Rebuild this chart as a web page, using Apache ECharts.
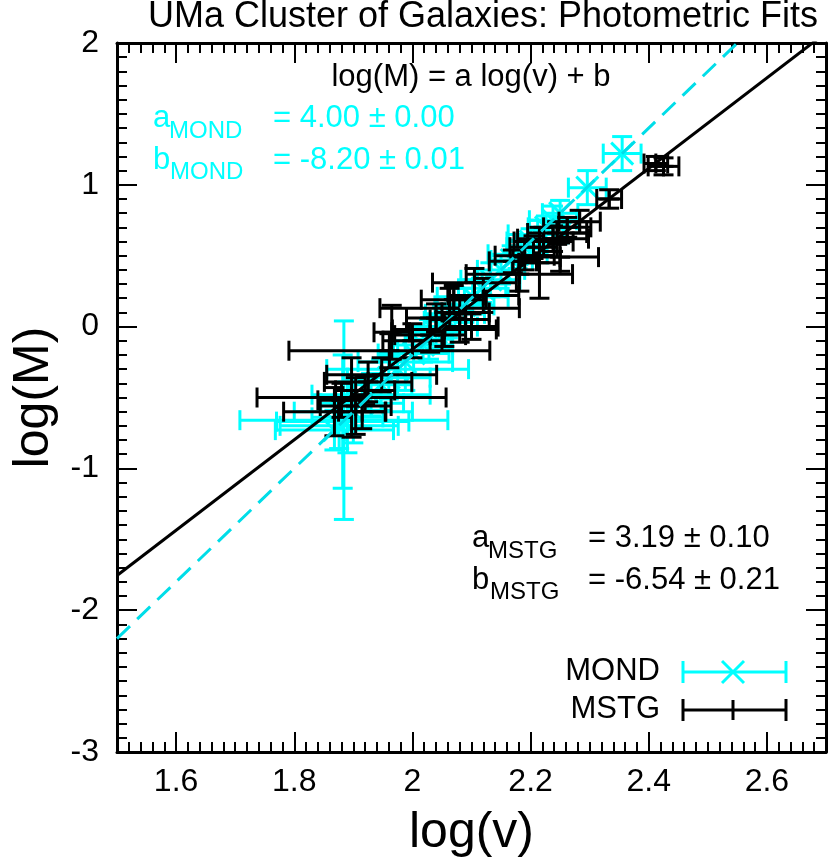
<!DOCTYPE html>
<html>
<head>
<meta charset="utf-8">
<title>UMa Cluster of Galaxies: Photometric Fits</title>
<script src="https://cdn.jsdelivr.net/npm/echarts@6/dist/echarts.min.js"></script>
<style>
  html, body { margin: 0; padding: 0; background: #fff; }
  #chart { width: 829px; height: 863px; }
</style>
</head>
<body>
<div id="chart"></div>
<script>
// MOND points: log(v), log(M) and their errors
const mondV  = [2.355, 2.296, 2.250, 2.238, 2.226, 2.212, 2.200, 2.190, 2.178, 2.168, 2.150, 2.132,
                2.118, 2.102, 2.088, 2.072, 2.060, 2.050, 2.040, 2.028, 2.018, 2.002, 1.988, 1.975,
                1.960, 1.947, 1.930, 1.915, 1.900, 1.890, 1.884, 1.882, 1.876, 1.868];
const mondM  = [1.22, 0.98, 0.80, 0.75, 0.70, 0.65, 0.60, 0.56, 0.51, 0.47, 0.40, 0.33,
                0.27, 0.21, 0.15, 0.09, 0.04, 0.00, -0.04, -0.09, -0.13, -0.19, -0.25, -0.30,
                -0.36, -0.41, -0.48, -0.54, -0.60, -0.64, -0.66, -0.67, -0.70, -0.73];
const mondDV = [0.032, 0.032, 0.030, 0.040, 0.030, 0.050, 0.040, 0.030, 0.050, 0.035, 0.040, 0.050,
                0.040, 0.060, 0.050, 0.050, 0.040, 0.060, 0.050, 0.040, 0.050, 0.060, 0.080, 0.120,
                0.070, 0.052, 0.100, 0.070, 0.100, 0.060, 0.176, 0.112, 0.100, 0.100];
const mondDM = [0.12, 0.12, 0.09, 0.10, 0.08, 0.10, 0.09, 0.08, 0.10, 0.10, 0.10, 0.12,
                0.10, 0.12, 0.12, 0.10, 0.12, 0.15, 0.12, 0.14, 0.12, 0.15, 0.20, 0.20,
                0.15, 0.18, 0.15, 0.18, 0.22, 0.25, 0.70, 0.47, 0.16, 0.14];

// MSTG points
const mstgV  = [2.425, 2.412, 2.333, 2.283, 2.262, 2.245, 2.238, 2.250, 2.215, 2.222, 2.205, 2.190,
                2.181, 2.170, 2.105, 2.120, 2.063, 2.070, 2.054, 2.080, 2.090, 2.040, 2.030, 2.100,
                2.000, 1.965, 1.961, 1.948, 1.925, 1.920, 1.904, 1.897, 1.868, 1.880, 1.915];
const mstgM  = [1.13, 1.15, 0.90, 0.74, 0.70, 0.66, 0.62, 0.49, 0.45, 0.60, 0.56, 0.50,
                0.37, 0.46, 0.31, 0.22, 0.13, 0.19, -0.02, 0.05, 0.10, 0.06, -0.06, 0.00,
                -0.10, -0.04, -0.17, -0.34, -0.39, -0.45, -0.56, -0.50, -0.60, -0.52, -0.60];
const mstgDV = [0.026, 0.020, 0.021, 0.035, 0.040, 0.050, 0.060, 0.065, 0.035, 0.050, 0.040, 0.050,
                0.090, 0.040, 0.071, 0.060, 0.118, 0.055, 0.088, 0.050, 0.040, 0.050, 0.060, 0.045,
                0.050, 0.030, 0.170, 0.093, 0.074, 0.050, 0.060, 0.160, 0.086, 0.040, 0.040];
const mstgDM = [0.06, 0.05, 0.065, 0.08, 0.07, 0.08, 0.09, 0.10, 0.25, 0.10, 0.08, 0.10,
                0.12, 0.08, 0.10, 0.12, 0.14, 0.10, 0.12, 0.16, 0.10, 0.10, 0.12, 0.09,
                0.12, 0.19, 0.12, 0.12, 0.14, 0.10, 0.20, 0.28, 0.17, 0.12, 0.12];

// fit lines, end points at the plot edges
const fitV = [1.5, 2.7];
const mondFitM = [-2.2, 2.6];
const mstgFitM = [-1.755, 2.073];

const xMajor = [1.6, 1.8, 2.0, 2.2, 2.4, 2.6];

const CYAN = '#00ffff';
const FONT = "'Liberation Sans', Arial, sans-serif";
const CAP = 10;

function errorBars(color, mark) {
  return function (params, api) {
    const v = api.value(0), m = api.value(1), dv = api.value(2), dm = api.value(3);
    const p = api.coord([v, m]);
    const l = api.coord([v - dv, m]);
    const r = api.coord([v + dv, m]);
    const t = api.coord([v, m + dm]);
    const b = api.coord([v, m - dm]);
    const st = { stroke: color, lineWidth: 3 };
    const seg = (x1, y1, x2, y2) => ({ type: 'line', shape: { x1: x1, y1: y1, x2: x2, y2: y2 }, style: st });
    const kids = [
      seg(l[0], l[1], r[0], r[1]),
      seg(l[0], l[1] - CAP, l[0], l[1] + CAP),
      seg(r[0], r[1] - CAP, r[0], r[1] + CAP),
      seg(t[0], t[1], b[0], b[1]),
      seg(t[0] - CAP, t[1], t[0] + CAP, t[1]),
      seg(b[0] - CAP, b[1], b[0] + CAP, b[1])
    ];
    if (mark === 'x') {
      kids.push(seg(p[0] - 11, p[1] - 11, p[0] + 11, p[1] + 11));
      kids.push(seg(p[0] - 11, p[1] + 11, p[0] + 11, p[1] - 11));
    } else {
      kids.push(seg(p[0] - 10, p[1], p[0] + 10, p[1]));
      kids.push(seg(p[0], p[1] - 10, p[0], p[1] + 10));
    }
    return { type: 'group', children: kids };
  };
}

function xAxisPair(pos, withLabels) {
  return [
    {
      type: 'value', position: pos, min: 1.5, max: 2.7, interval: 0.02,
      axisLine: { show: true, onZero: false, lineStyle: { color: '#000', width: 3 } },
      axisTick: { inside: true, length: 10, lineStyle: { color: '#000', width: 2 } },
      axisLabel: { show: false }, splitLine: { show: false },
      name: withLabels ? 'log(v)' : '', nameLocation: 'middle', nameGap: 56,
      nameTextStyle: { fontFamily: FONT, fontSize: 50, color: '#000' }
    },
    {
      type: 'value', position: pos, min: 1.5, max: 2.7, interval: 0.1,
      axisLine: { show: false, onZero: false },
      axisTick: { inside: true, length: 20, customValues: xMajor, lineStyle: { color: '#000', width: 2 } },
      axisLabel: { show: withLabels, customValues: xMajor, fontFamily: FONT, fontSize: 32, color: '#000', margin: 14 },
      splitLine: { show: false }
    }
  ];
}

function yAxisOne(pos, withLabels) {
  return {
    type: 'value', position: pos, min: -3, max: 2, interval: 1,
    axisLine: { show: true, onZero: false, lineStyle: { color: '#000', width: 3 } },
    axisTick: { inside: true, length: 20, lineStyle: { color: '#000', width: 2 } },
    minorTick: { show: true, splitNumber: 10, length: 10, lineStyle: { color: '#000', width: 2 } },
    axisLabel: { show: withLabels, fontFamily: FONT, fontSize: 32, color: '#000', margin: 18 },
    splitLine: { show: false },
    name: withLabels ? 'log(M)' : '', nameLocation: 'middle', nameGap: 58,
    nameTextStyle: { fontFamily: FONT, fontSize: 50, color: '#000' }
  };
}

function txt(x, y, s, size, color, align) {
  return {
    type: 'text', x: x, y: y, silent: true,
    style: { text: s, font: size + 'px ' + FONT, fill: color, align: align || 'left', verticalAlign: 'middle' }
  };
}
function seg(x1, y1, x2, y2, color) {
  return { type: 'line', silent: true, shape: { x1: x1, y1: y1, x2: x2, y2: y2 }, style: { stroke: color, lineWidth: 3 } };
}

const chart = echarts.init(document.getElementById('chart'));
chart.setOption({
  backgroundColor: '#fff',
  animation: false,
  grid: { left: 117, right: 3, top: 43, bottom: 110, containLabel: false },
  xAxis: xAxisPair('bottom', true).concat(xAxisPair('top', false)),
  yAxis: [yAxisOne('left', true), yAxisOne('right', false)],
  series: [
    {
      type: 'custom', name: 'MOND', xAxisIndex: 0, yAxisIndex: 0, clip: true, silent: true, z: 1,
      renderItem: errorBars(CYAN, 'x'),
      encode: { x: 0, y: 1 },
      data: mondV.map((v, i) => [v, mondM[i], mondDV[i], mondDM[i]])
    },
    {
      type: 'custom', name: 'MSTG', xAxisIndex: 0, yAxisIndex: 0, clip: true, silent: true, z: 2,
      renderItem: errorBars('#000', '+'),
      encode: { x: 0, y: 1 },
      data: mstgV.map((v, i) => [v, mstgM[i], mstgDV[i], mstgDM[i]])
    },
    {
      type: 'line', xAxisIndex: 0, yAxisIndex: 0, clip: true, silent: true, z: 3,
      symbol: 'none', lineStyle: { color: '#00dde8', width: 3, type: [18, 10] },
      data: fitV.map((v, i) => [v, mondFitM[i]])
    },
    {
      type: 'line', xAxisIndex: 0, yAxisIndex: 0, clip: true, silent: true, z: 4,
      symbol: 'none', lineStyle: { color: '#000', width: 3 },
      data: fitV.map((v, i) => [v, mstgFitM[i]])
    }
  ],
  graphic: [
    txt(483, 17, 'UMa Cluster of Galaxies: Photometric Fits', 36, '#000', 'center'),
    txt(471, 77, 'log(M) = a log(v) + b', 31, '#000', 'center'),

    txt(153, 118, 'a', 31, CYAN), txt(169, 131, 'MOND', 24, CYAN), txt(273, 118, '= 4.00 ± 0.00', 31, CYAN),
    txt(153, 160, 'b', 31, CYAN), txt(170, 172, 'MOND', 24, CYAN), txt(273, 160, '= -8.20 ± 0.01', 31, CYAN),

    txt(472, 538, 'a', 31, '#000'), txt(488, 551, 'MSTG', 24, '#000'), txt(588, 538, '= 3.19 ± 0.10', 31, '#000'),
    txt(472, 580, 'b', 31, '#000'), txt(490, 592, 'MSTG', 24, '#000'), txt(588, 580, '= -6.54 ± 0.21', 31, '#000'),

    txt(660, 671, 'MOND', 31, '#000', 'right'),
    seg(683, 672, 786, 672, CYAN), seg(683, 661, 683, 683, CYAN), seg(786, 661, 786, 683, CYAN),
    seg(722, 661, 744, 683, CYAN), seg(722, 683, 744, 661, CYAN),
    txt(660, 709, 'MSTG', 31, '#000', 'right'),
    seg(683, 710, 786, 710, '#000'), seg(683, 699, 683, 721, '#000'), seg(786, 699, 786, 721, '#000'),
    seg(733, 700, 733, 720, '#000')
  ]
});
</script>
</body>
</html>
